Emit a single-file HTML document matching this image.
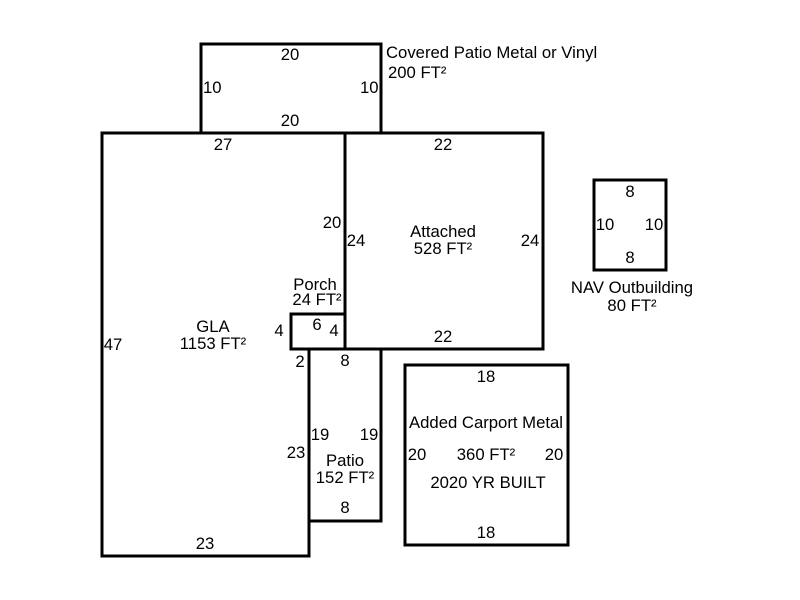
<!DOCTYPE html>
<html><head><style>body{margin:0;background:#fff}svg{display:block}text{font-family:"Liberation Sans",Arial,sans-serif;font-size:16.7px;fill:#000}</style></head>
<body>
<svg width="800" height="600" viewBox="0 0 800 600">
<g fill="none" stroke="#000" stroke-width="3">
<rect x="201" y="44" width="180" height="89"/>
<polygon points="102,133 345,133 345,314 291,314 291,349 309,349 309,556 102,556"/>
<rect x="345" y="133" width="198" height="216"/>
<rect x="291" y="314" width="54" height="35"/>
<rect x="309" y="349" width="72" height="172"/>
<rect x="594" y="180" width="72" height="90"/>
<rect x="405" y="365" width="163" height="180"/>
</g>
<g text-anchor="middle">
<text x="290" y="60">20</text><text x="290" y="126">20</text>
<text x="223" y="150">27</text><text x="443" y="150">22</text>
<text x="332" y="228">20</text><text x="356" y="246">24</text>
<text x="443" y="237">Attached</text><text x="443" y="254">528 FT²</text>
<text x="530" y="246">24</text><text x="443" y="342">22</text>
<text x="315" y="290">Porch</text><text x="317" y="305">24 FT²</text>
<text x="279" y="336">4</text><text x="317" y="330">6</text><text x="334" y="336">4</text>
<text x="300" y="367">2</text><text x="345" y="366">8</text>
<text x="213" y="332">GLA</text><text x="213" y="349">1153 FT²</text>
<text x="113" y="350">47</text>
<text x="296" y="458">23</text><text x="320" y="440">19</text><text x="369" y="440">19</text>
<text x="345" y="466">Patio</text><text x="345" y="483">152 FT²</text>
<text x="345" y="513">8</text><text x="205" y="549">23</text>
<text x="630" y="197">8</text><text x="605" y="230">10</text><text x="654" y="230">10</text><text x="630" y="263">8</text>
<text x="632" y="293">NAV Outbuilding</text><text x="632" y="311">80 FT²</text>
<text x="486" y="382">18</text>
<text x="486" y="428">Added Carport Metal</text>
<text x="417" y="460">20</text><text x="486" y="460">360 FT²</text><text x="554" y="460">20</text>
<text x="488" y="488">2020 YR BUILT</text>
<text x="486" y="538">18</text>
</g>
<text x="203" y="93">10</text><text x="360" y="93">10</text>
<text x="386" y="58">Covered Patio Metal or Vinyl</text>
<text x="388" y="78">200 FT²</text>
</svg>
</body></html>
